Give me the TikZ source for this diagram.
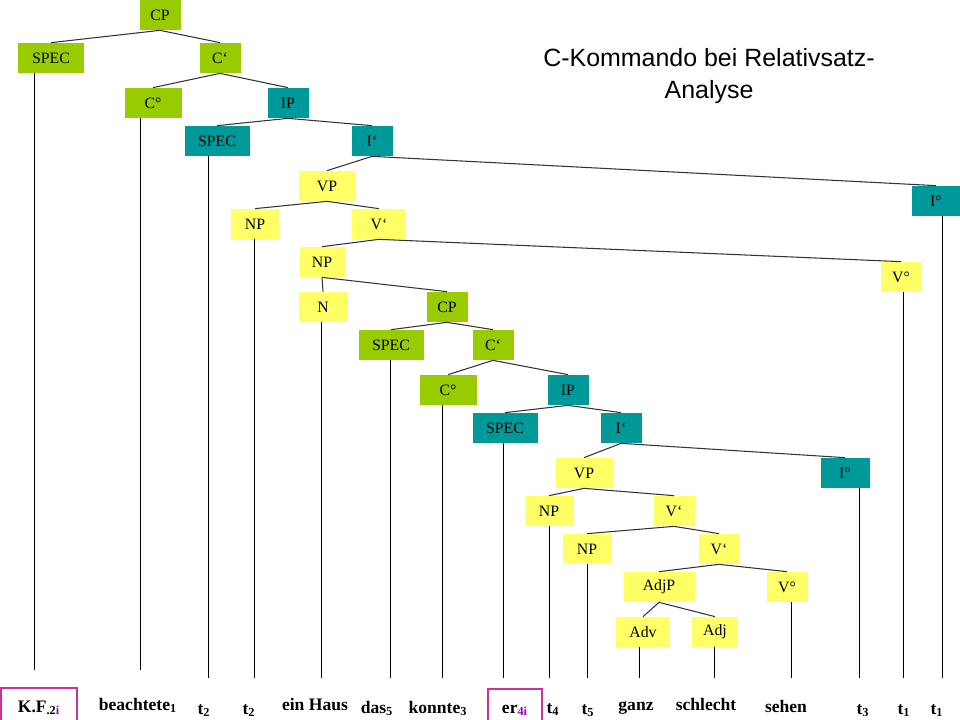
\documentclass[tikz,border=0pt]{standalone}
\usepackage{fontspec}
\setmainfont{Liberation Serif}
\newfontfamily\titlefont{Liberation Sans}
\definecolor{phrasegreen}{HTML}{99CC00}
\definecolor{phraseteal}{HTML}{009999}
\definecolor{phraseyellow}{HTML}{FFFF66}
\definecolor{markframe}{HTML}{CC3399}
\definecolor{subpurple}{HTML}{A000C8}
\tikzset{
  every node/.style={
    font=\fontsize{9}{11}\selectfont
  },
  cat/.style={
    shape=rectangle,
    minimum height=6mm,
    inner sep=0pt,
    text=black
  },
  green cat/.style={cat, fill=phrasegreen, minimum width=#1},
  teal cat/.style={cat, fill=phraseteal, minimum width=#1},
  yellow cat/.style={cat, fill=phraseyellow, minimum width=#1},
  branch/.style={draw=black!80, line width=0.6pt},
  stem/.style={draw=black, line width=0.5pt},
  word/.style={
    font=\fontsize{10}{12}\bfseries\selectfont,
    anchor=base,
    inner sep=0pt
  },
  marked word/.style={
    word,
    draw=markframe,
    line width=0.6pt,
    minimum width=#1,
    text height=4.8mm,
    text depth=3.6mm
  },
  heading/.style={
    font=\titlefont\fontsize{14.2}{18}\selectfont,
    align=center
  }
}

\begin{document}
\begin{tikzpicture}[x=0.2mm,y=-0.2mm]
  \useasboundingbox (0,0) rectangle (960,720);
  \node[heading] (title) at (709,76) {C-Kommando bei Relativsatz-\\Analyse};

  % matrix clause
  \node[green cat=8.2mm] (cp1) at (160,15) {CP};
  \node[green cat=13mm] (spec1) at (51,58) {SPEC};
  \node[green cat=8.2mm] (cbar1) at (220,58) {C‘};
  \node[green cat=11.4mm] (c01) at (153,103) {C°};
  \node[teal cat=8.2mm] (ip1) at (288,103) {IP};
  \node[teal cat=13mm] (spec2) at (217,141) {SPEC};
  \node[teal cat=8.2mm] (ibar1) at (372,141) {I‘};
  \node[teal cat=9.6mm] (i01) at (936,201) {I°};
  \node[yellow cat=11.4mm] (vp1) at (327,186) {VP};
  \node[yellow cat=9.6mm] (np1) at (255,224) {NP};
  \node[yellow cat=10.8mm] (vbar1) at (379,224) {V‘};
  \node[yellow cat=8.2mm] (v01) at (901,277) {V°};
  \node[yellow cat=9mm] (np2) at (322,262) {NP};
  \node[yellow cat=9.8mm] (n1) at (323,307) {N};

  % relative clause
  \node[green cat=8.2mm] (cp2) at (447,307) {CP};
  \node[green cat=13mm] (spec3) at (391,345) {SPEC};
  \node[green cat=8.2mm] (cbar2) at (493,345) {C‘};
  \node[green cat=11.4mm] (c02) at (448,390) {C°};
  \node[teal cat=8.2mm] (ip2) at (568,390) {IP};
  \node[teal cat=13mm] (spec4) at (505,428) {SPEC};
  \node[teal cat=8.2mm] (ibar2) at (621,428) {I‘};
  \node[teal cat=9.8mm] (i02) at (845,473) {I°};
  \node[yellow cat=11.4mm] (vp2) at (584,473) {VP};
  \node[yellow cat=9.8mm] (np3) at (549,511) {NP};
  \node[yellow cat=8.2mm] (vbar2) at (674,511) {V‘};
  \node[yellow cat=9.8mm] (np4) at (587,549) {NP};
  \node[yellow cat=8.2mm] (vbar3) at (719,549) {V‘};
  \node[yellow cat=14.2mm] (adjp) at (659,587) {AdjP};
  \node[yellow cat=8.2mm] (v02) at (787,587) {V°};
  \node[yellow cat=10.8mm] (adv) at (643,632) {Adv};
  \node[yellow cat=9.2mm] (adj) at (715,632) {Adj};

  \draw[branch] (cp1.south) -- (spec1.north);
  \draw[branch] (cp1.south) -- (cbar1.north);
  \draw[branch] (cbar1.south) -- (c01.north);
  \draw[branch] (cbar1.south) -- (ip1.north);
  \draw[branch] (ip1.south) -- (spec2.north);
  \draw[branch] (ip1.south) -- (ibar1.north);
  \draw[branch] (ibar1.south) -- (vp1.north);
  \draw[branch] (ibar1.south) -- (i01.north);
  \draw[branch] (vp1.south) -- (np1.north);
  \draw[branch] (vp1.south) -- (vbar1.north);
  \draw[branch] (vbar1.south) -- (np2.north);
  \draw[branch] (vbar1.south) -- (v01.north);
  \draw[branch] (np2.south) -- (n1.north);
  \draw[branch] (np2.south) -- (cp2.north);
  \draw[branch] (cp2.south) -- (spec3.north);
  \draw[branch] (cp2.south) -- (cbar2.north);
  \draw[branch] (cbar2.south) -- (c02.north);
  \draw[branch] (cbar2.south) -- (ip2.north);
  \draw[branch] (ip2.south) -- (spec4.north);
  \draw[branch] (ip2.south) -- (ibar2.north);
  \draw[branch] (ibar2.south) -- (vp2.north);
  \draw[branch] (ibar2.south) -- (i02.north);
  \draw[branch] (vp2.south) -- (np3.north);
  \draw[branch] (vp2.south) -- (vbar2.north);
  \draw[branch] (vbar2.south) -- (np4.north);
  \draw[branch] (vbar2.south) -- (vbar3.north);
  \draw[branch] (vbar3.south) -- (adjp.north);
  \draw[branch] (vbar3.south) -- (v02.north);
  \draw[branch] (adjp.south) -- (adv.north);
  \draw[branch] (adjp.south) -- (adj.north);

  % lines down to the words
  \coordinate (end1) at (34,670);
  \coordinate (end2) at (140,670);
  \coordinate (end3) at (208,678);
  \coordinate (end4) at (254,678);
  \coordinate (end5) at (321,678);
  \coordinate (end6) at (390,678);
  \coordinate (end7) at (442,678);
  \coordinate (end8) at (503,678);
  \coordinate (end9) at (549,678);
  \coordinate (end10) at (587,678);
  \coordinate (end11) at (639,678);
  \coordinate (end12) at (714,678);
  \coordinate (end13) at (791,678);
  \coordinate (end14) at (859,678);
  \coordinate (end15) at (903,678);
  \coordinate (end16) at (942,678);
  \draw[stem] (spec1.south -| end1) -- (end1);
  \draw[stem] (c01.south -| end2) -- (end2);
  \draw[stem] (spec2.south -| end3) -- (end3);
  \draw[stem] (np1.south -| end4) -- (end4);
  \draw[stem] (n1.south -| end5) -- (end5);
  \draw[stem] (spec3.south -| end6) -- (end6);
  \draw[stem] (c02.south -| end7) -- (end7);
  \draw[stem] (spec4.south -| end8) -- (end8);
  \draw[stem] (np3.south -| end9) -- (end9);
  \draw[stem] (np4.south -| end10) -- (end10);
  \draw[stem] (adv.south -| end11) -- (end11);
  \draw[stem] (adj.south -| end12) -- (end12);
  \draw[stem] (v02.south -| end13) -- (end13);
  \draw[stem] (i02.south -| end14) -- (end14);
  \draw[stem] (v01.south -| end15) -- (end15);
  \draw[stem] (i01.south -| end16) -- (end16);

  % the sentence
  \node[marked word=15.2mm] (kf) at (39,712) {K.F\textsubscript{.2\textcolor{subpurple}{i}}};
  \node[word] (beachtete) at (138,710) {beachtete\textsubscript{1}};
  \node[word] (t2a) at (204,714) {t\textsubscript{2}};
  \node[word] (t2b) at (249,714) {t\textsubscript{2}};
  \node[word] (einhaus) at (315,710) {ein Haus};
  \node[word] (das) at (377,713) {das\textsubscript{5}};
  \node[word] (konnte) at (438,713) {konnte\textsubscript{3}};
  \node[marked word=10.8mm] (er) at (515,713) {er\textsubscript{\textcolor{subpurple}{4i}}};
  \node[word] (t4) at (553,713) {t\textsubscript{4}};
  \node[word] (t5) at (588,714) {t\textsubscript{5}};
  \node[word] (ganz) at (636,710) {ganz};
  \node[word] (schlecht) at (706,710) {schlecht};
  \node[word] (sehen) at (786,712) {sehen};
  \node[word] (t3) at (863,714) {t\textsubscript{3}};
  \node[word] (t1a) at (904,714) {t\textsubscript{1}};
  \node[word] (t1b) at (937,714) {t\textsubscript{1}};
\end{tikzpicture}
\end{document}
